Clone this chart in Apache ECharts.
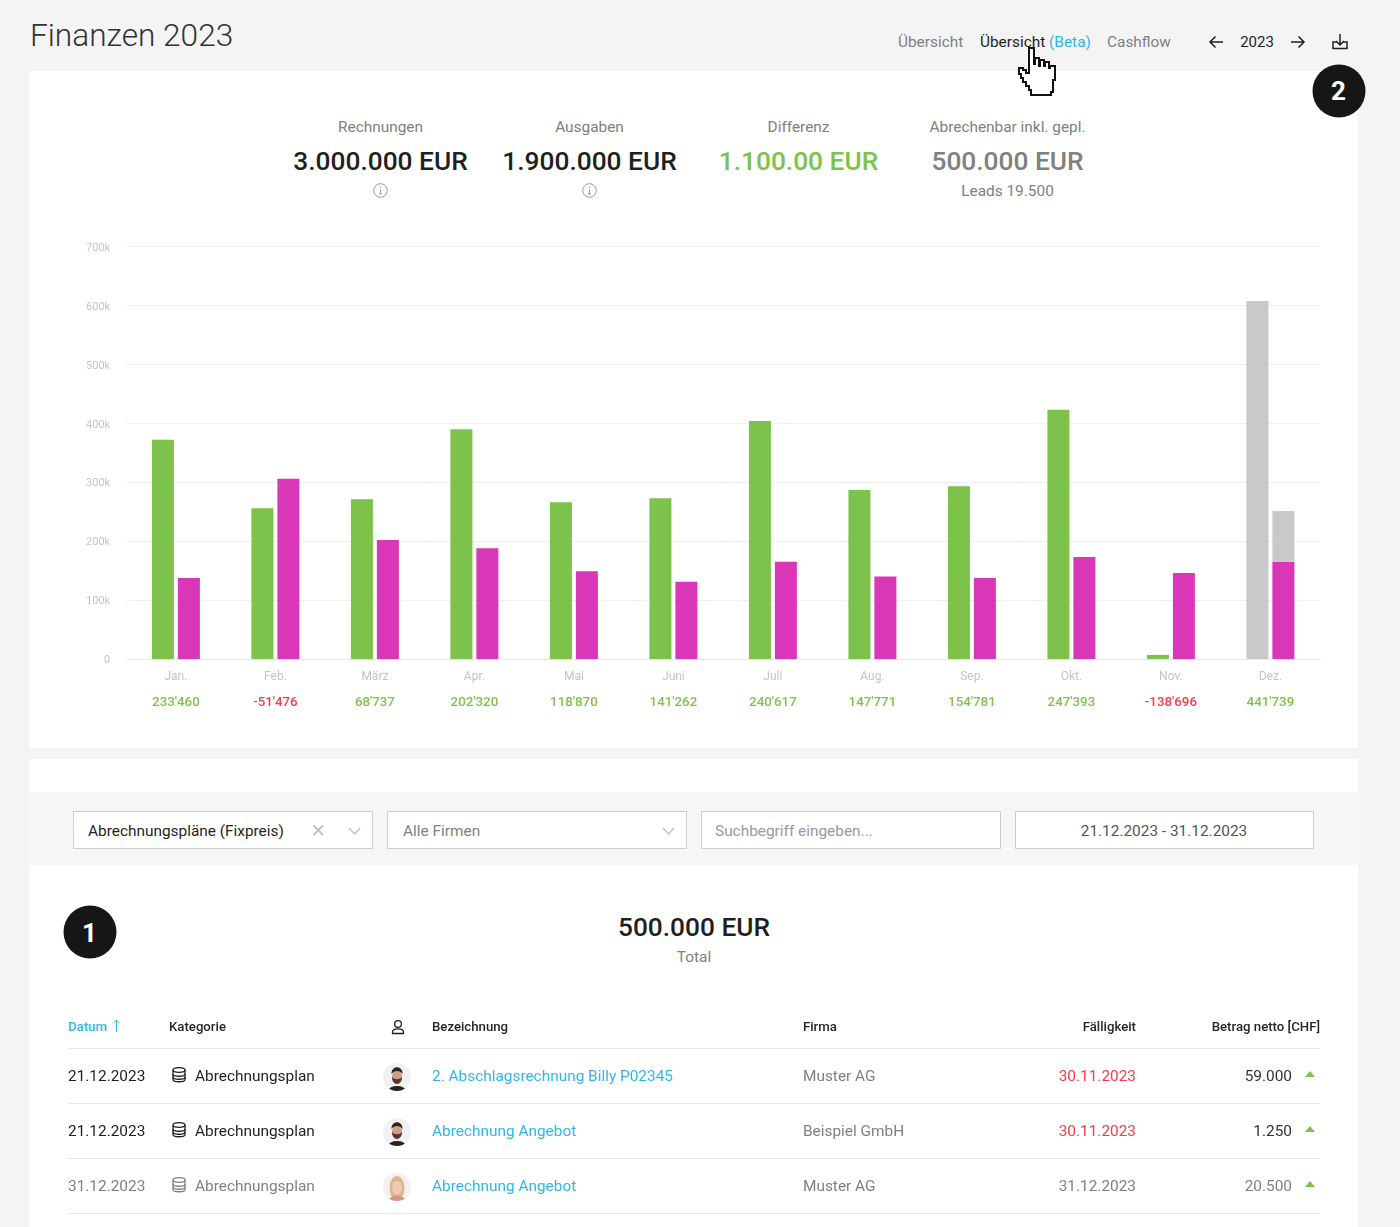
<!DOCTYPE html>
<html lang="de">
<head>
<meta charset="utf-8">
<title>Finanzen 2023</title>
<script src="https://cdn.jsdelivr.net/npm/echarts@6/dist/echarts.min.js"></script>
<style>
html, body { margin: 0; padding: 0; }
body { width: 1400px; height: 1227px; position: relative; overflow: hidden; background: #f4f4f4; font-family: Roboto, sans-serif; color: #1f1f1f; }
.a { position: absolute; white-space: nowrap; }
.c { transform: translate(-50%, -50%); }
.l { transform: translateY(-50%); }
.r { transform: translate(-100%, -50%); }
.card { position: absolute; background: #fff; }
.label { font-size: 15.4px; color: #808080; }
.big { font-size: 26.3px; font-weight: 500; }
.field { position: absolute; top: 811px; height: 36px; background: #fff; border: 1px solid #cfcfcf; }
.hdr { font-size: 13.2px; font-weight: 500; color: #262626; }
.cell { font-size: 15.4px; }
.rule { position: absolute; left: 68px; width: 1252px; height: 1px; background: #e8e8e8; }
svg { position: absolute; overflow: visible; }
</style>
</head>
<body>

<div class="card" style="left:29px;top:71px;width:1329px;height:677px"></div>
<div class="card" style="left:29px;top:759px;width:1329px;height:33px"></div>
<div class="card" style="left:29px;top:792px;width:1329px;height:73px;background:#f6f6f6"></div>
<div class="card" style="left:29px;top:865px;width:1329px;height:362px"></div>

<div class="a l" style="left:30px;top:35px;font-size:31.6px;font-weight:300;color:#333">Finanzen 2023</div>
<div class="a l label" style="left:898px;top:42px">Übersicht</div>
<div class="a l" style="left:980px;top:42px;font-size:15.4px;color:#1f1f1f">Übersicht <span style="color:#2fb7ec">(Beta)</span></div>
<div class="a l label" style="left:1107px;top:42px">Cashflow</div>
<div class="a c" style="left:1257px;top:42px;font-size:15px">2023</div>

<svg style="left:0;top:0" width="1400" height="120" fill="none" stroke="#1f1f1f" stroke-width="1.5">
  <path d="M1223 42H1210M1215.5 36.5L1210 42L1215.5 47.5"/>
  <path d="M1291 42H1304M1298.5 36.5L1304 42L1298.5 47.5"/>
  <path d="M1340 34V44.5M1336 41L1340 45L1344 41M1336.5 42H1333V48.5H1347V42H1343.5"/>
</svg>

<div id="kpis"></div>

<div id="chart" style="position:absolute;left:29px;top:230px;width:1329px;height:500px"></div>

<div class="field" style="left:73px;width:298px"></div>
<div class="a l cell" style="left:88px;top:830.5px">Abrechnungspläne (Fixpreis)</div>
<div class="field" style="left:387px;width:298px"></div>
<div class="a l label" style="left:403px;top:830.5px">Alle Firmen</div>
<div class="field" style="left:701px;width:298px"></div>
<div class="a l label" style="left:715px;top:830.5px;color:#999">Suchbegriff eingeben...</div>
<div class="field" style="left:1015px;width:297px"></div>
<div class="a c label" style="left:1164px;top:830.5px;color:#555">21.12.2023 - 31.12.2023</div>
<svg style="left:0;top:0" width="1400" height="900" fill="none" stroke="#c4c4c4" stroke-width="1.5">
  <path d="M313.5 825.5L323 835M323 825.5L313.5 835" stroke-width="2"/>
  <path d="M349 828L354.5 834L360 828"/>
  <path d="M663 828L668.5 834L674 828"/>
</svg>

<div class="a c big" style="left:694px;top:927px">500.000 EUR</div>
<div class="a c label" style="left:694px;top:957px">Total</div>

<div class="a l hdr" style="left:68px;top:1025.5px;color:#2fb7ec">Datum</div>
<svg style="left:0;top:0" width="1400" height="1227" fill="none" stroke="#2fb7ec" stroke-width="1">
  <path d="M116.5 1032V1020M113 1023.5L116.5 1020L120 1023.5"/>
  <g stroke="#1f1f1f" stroke-width="1.3">
    <circle cx="398" cy="1024" r="3.4"/>
    <path d="M392.5 1033.5V1032C392.5 1029.5 394.5 1028.8 398 1028.8C401.5 1028.8 403.5 1029.5 403.5 1032V1033.5Z"/>
  </g>
</svg>
<div class="a l hdr" style="left:169px;top:1025.5px">Kategorie</div>
<div class="a l hdr" style="left:432px;top:1025.5px">Bezeichnung</div>
<div class="a l hdr" style="left:803px;top:1025.5px">Firma</div>
<div class="a r hdr" style="left:1136px;top:1025.5px">Fälligkeit</div>
<div class="a r hdr" style="left:1320px;top:1025.5px">Betrag netto [CHF]</div>
<div class="rule" style="top:1048px"></div>

<div id="rows"></div>

<svg style="left:0;top:0" width="1400" height="120">
  <path d="M1029 48H1034V64H1035V58H1039V66H1040V60H1044V66H1045V62H1049V68H1050V66H1055V80H1053V92H1051V95H1031V90H1029V86H1026V82H1023V78H1021V74H1019V68H1023V70H1026V73H1029Z"
        fill="#fff" stroke="#111" stroke-width="1.6" shape-rendering="crispEdges"/>
</svg>

<div class="a c" style="left:1338.5px;top:90.5px;width:53px;height:53px;border-radius:50%;background:#161616;color:#fff;font-size:26px;font-weight:700;line-height:53px;text-align:center">2</div>
<div class="a c" style="left:89.5px;top:931.5px;width:53px;height:53px;border-radius:50%;background:#161616;color:#fff;font-size:26px;font-weight:700;line-height:55px;text-align:center">1</div>

<script>
// Monatsdaten
var months = ['Jan.', 'Feb.', 'März', 'Apr.', 'Mai', 'Juni', 'Juli', 'Aug.', 'Sep.', 'Okt.', 'Nov.', 'Dez.'];
var rechnungen = [372000, 256000, 271000, 390000, 266000, 273000, 404000, 287000, 293000, 423000, 7000, null];
var ausgaben = [137500, 306000, 202000, 188000, 149000, 131000, 165000, 140000, 137500, 173000, 146000, 165000];
var geplantRechnungen = [null, null, null, null, null, null, null, null, null, null, null, 607500];
var geplantAusgaben = [null, null, null, null, null, null, null, null, null, null, null, 86000];
var differenz = [233460, -51476, 68737, 202320, 118870, 141262, 240617, 147771, 154781, 247393, -138696, 441739];

var kpiLabels = ['Rechnungen', 'Ausgaben', 'Differenz', 'Abrechenbar inkl. gepl.'];
var kpiValues = ['3.000.000 EUR', '1.900.000 EUR', '1.100.00 EUR', '500.000 EUR'];
var kpiColors = ['#1f1f1f', '#1f1f1f', '#7dc24b', '#808080'];
var kpiCenters = [380.5, 589.5, 798.5, 1007.5];

var rowDates = ['21.12.2023', '21.12.2023', '31.12.2023'];
var rowNames = ['2. Abschlagsrechnung Billy P02345', 'Abrechnung Angebot', 'Abrechnung Angebot'];
var rowFirms = ['Muster AG', 'Beispiel GmbH', 'Muster AG'];
var rowDue = ['30.11.2023', '30.11.2023', '31.12.2023'];
var rowAmounts = ['59.000', '1.250', '20.500'];

var GREEN = '#7dc24b', MAGENTA = '#d936b8', GRAY = '#c9c9c9', RED = '#f93b47';

function formatDiff(v) {
    var s = String(Math.abs(v)).replace(/\B(?=(\d{3})+$)/g, "'");
    return (v < 0 ? '-' : '') + s;
}

function addHtml(id, html) {
    document.getElementById(id).insertAdjacentHTML('beforeend', html);
}

function infoIcon(cx) {
    return '<svg style="left:0;top:0" width="1400" height="220" fill="none" stroke="#999" stroke-width="1">' +
        '<circle cx="' + cx + '" cy="190.5" r="6.8"/>' +
        '<path d="M' + cx + ' 189.5V194M' + (cx - 1.5) + ' 194H' + (cx + 1.5) + 'M' + cx + ' 186.5V187.8"/></svg>';
}

for (var k = 0; k < kpiLabels.length; k++) {
    addHtml('kpis', '<div class="a c label" style="left:' + kpiCenters[k] + 'px;top:127px">' + kpiLabels[k] + '</div>');
    addHtml('kpis', '<div class="a c big" style="left:' + kpiCenters[k] + 'px;top:161px;color:' + kpiColors[k] + '">' + kpiValues[k] + '</div>');
    if (k < 2) addHtml('kpis', infoIcon(kpiCenters[k]));
}
addHtml('kpis', '<div class="a c label" style="left:1007.5px;top:191px">Leads 19.500</div>');

function dbIcon(y, color) {
    return '<svg style="left:0;top:0" width="1400" height="1227" fill="none" stroke="' + color + '" stroke-width="1.3">' +
        '<ellipse cx="179" cy="' + (y - 5) + '" rx="6" ry="2.3"/>' +
        '<path d="M173 ' + (y - 5) + 'V' + (y + 4.5) + 'C173 ' + (y + 7.5) + ' 185 ' + (y + 7.5) + ' 185 ' + (y + 4.5) + 'V' + (y - 5) + '"/>' +
        '<path d="M173 ' + (y - 1) + 'C173 ' + (y + 2) + ' 185 ' + (y + 2) + ' 185 ' + (y - 1) + '"/>' +
        '<path d="M173 ' + (y + 2) + 'C173 ' + (y + 5) + ' 185 ' + (y + 5) + ' 185 ' + (y + 2) + '"/></svg>';
}

function avatar(y, blonde) {
    var hair = blonde ? '#d9b98c' : '#2a2623';
    var body = blonde ? '#d98f8c' : '#26241f';
    var skin = blonde ? '#efc9b2' : '#d29c86';
    var cid = 'av' + y;
    var back = blonde ? '<ellipse cx="397" cy="' + (y + 3) + '" rx="7.5" ry="12" fill="' + hair + '"/>' : '';
    var beard = blonde ? '' : '<path d="M392 ' + (y + 2) + 'C392 ' + (y + 11) + ' 402 ' + (y + 11) + ' 402 ' + (y + 2) + 'C400 ' + (y + 5) + ' 394 ' + (y + 5) + ' 392 ' + (y + 2) + 'Z" fill="#4a3a32"/>';
    return '<svg style="left:0;top:0" width="1400" height="1227">' +
        '<clipPath id="' + cid + '"><circle cx="397" cy="' + (y + 2) + '" r="14"/></clipPath>' +
        '<g clip-path="url(#' + cid + ')">' +
        '<rect x="383" y="' + (y - 12) + '" width="28" height="28" fill="#f1f1f1"/>' + back +
        '<ellipse cx="397" cy="' + (y + 16) + '" rx="9" ry="5" fill="' + body + '"/>' +
        '<ellipse cx="397" cy="' + (y + 2) + '" rx="5" ry="7.5" fill="' + skin + '"/>' + beard +
        '<path d="M391.5 ' + (y - 1) + 'C391 ' + (y - 10) + ' 403 ' + (y - 10) + ' 402.5 ' + (y - 1) + 'C400 ' + (y - 5) + ' 394 ' + (y - 5) + ' 391.5 ' + (y - 1) + 'Z" fill="' + hair + '"/>' +
        '</g></svg>';
}

for (var r = 0; r < rowDates.length; r++) {
    var y = 1075 + r * 55;
    var muted = r === 2;
    var text = muted ? '#808080' : '#1f1f1f';
    var due = muted ? '#808080' : RED;
    var ty = y + 0.5;
    addHtml('rows', '<div class="a l cell" style="left:68px;top:' + ty + 'px;color:' + text + '">' + rowDates[r] + '</div>');
    addHtml('rows', dbIcon(y, text));
    addHtml('rows', '<div class="a l cell" style="left:195px;top:' + ty + 'px;color:' + text + '">Abrechnungsplan</div>');
    addHtml('rows', avatar(y, muted));
    addHtml('rows', '<div class="a l cell" style="left:432px;top:' + ty + 'px;color:#2fb7ec">' + rowNames[r] + '</div>');
    addHtml('rows', '<div class="a l cell" style="left:803px;top:' + ty + 'px;color:#808080">' + rowFirms[r] + '</div>');
    addHtml('rows', '<div class="a r cell" style="left:1136px;top:' + ty + 'px;color:' + due + '">' + rowDue[r] + '</div>');
    addHtml('rows', '<div class="a r cell" style="left:1292px;top:' + ty + 'px;color:' + (muted ? '#808080' : '#333') + '">' + rowAmounts[r] + '</div>');
    addHtml('rows', '<svg style="left:0;top:0" width="1400" height="1227"><path d="M1305 ' + (y + 2) + 'L1310 ' + (y - 4) + 'L1315 ' + (y + 2) + 'Z" fill="' + GREEN + '"/></svg>');
    addHtml('rows', '<div class="rule" style="top:' + (y + 28) + 'px"></div>');
}

var chart = echarts.init(document.getElementById('chart'));

function barSeries(name, stack, data, color) {
    return {
        name: name,
        type: 'bar',
        stack: stack,
        data: data,
        barWidth: 22,
        barGap: '18%',
        itemStyle: { color: color }
    };
}

chart.setOption({
    animation: false,
    textStyle: { fontFamily: 'Roboto' },
    grid: { left: 97.15, right: 37.85, top: 16.5, bottom: 71 },
    xAxis: {
        type: 'category',
        data: months,
        axisLine: { lineStyle: { color: '#e8e8e8' } },
        axisTick: { show: false },
        axisLabel: {
            margin: 5,
            interval: 0,
            formatter: function (value, index) {
                var style = differenz[index] < 0 ? 'neg' : 'pos';
                return '{m|' + value + '}\n{' + style + '|' + formatDiff(differenz[index]) + '}';
            },
            rich: {
                m: { fontSize: 12, color: '#c4c4c4', lineHeight: 26, fontFamily: 'Roboto' },
                pos: { fontSize: 13.3, fontWeight: 500, color: GREEN, lineHeight: 26, fontFamily: 'Roboto' },
                neg: { fontSize: 13.3, fontWeight: 500, color: RED, lineHeight: 26, fontFamily: 'Roboto' }
            }
        }
    },
    yAxis: {
        type: 'value',
        min: 0,
        max: 700000,
        interval: 100000,
        axisLine: { show: false },
        axisTick: { show: false },
        splitLine: { lineStyle: { color: '#efefef' } },
        axisLabel: {
            margin: 16,
            fontSize: 11,
            color: '#c4c4c4',
            verticalAlign: 'top',
            lineHeight: 3,
            formatter: function (v) { return v === 0 ? '0' : (v / 1000) + 'k'; }
        }
    },
    series: [
        barSeries('Rechnungen', 'links', rechnungen, GREEN),
        barSeries('Geplant Rechnungen', 'links', geplantRechnungen, GRAY),
        barSeries('Ausgaben', 'rechts', ausgaben, MAGENTA),
        barSeries('Geplant Ausgaben', 'rechts', geplantAusgaben, GRAY)
    ]
});
</script>
</body>
</html>
